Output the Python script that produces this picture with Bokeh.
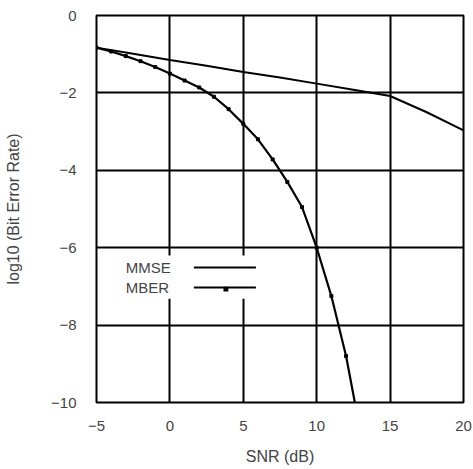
from bokeh.plotting import figure
from bokeh.models import FixedTicker, Range1d, Label, BoxAnnotation
from bokeh.embed import file_html
from bokeh.resources import INLINE

# data
snr_mmse = [-5, -2.5, 0, 2.5, 5, 7.5, 10, 12.5, 15, 17.5, 20]
ber_mmse = [-0.83, -0.99, -1.15, -1.3, -1.46, -1.6, -1.76, -1.92, -2.08, -2.5, -2.97]
snr_mber = [-5, -4, -3, -2, -1, 0, 1, 2, 3, 4, 5, 6, 7, 8, 9, 10, 11, 12, 12.6]
ber_mber = [-0.83, -0.93, -1.05, -1.18, -1.33, -1.5, -1.68, -1.86, -2.1, -2.42,
            -2.8, -3.2, -3.72, -4.3, -4.95, -6.0, -7.25, -8.8, -10.0]
x_ticks = [-5, 0, 5, 10, 15, 20]
y_ticks = [0, -2, -4, -6, -8, -10]
series_names = ["MMSE", "MBER"]

FONT = "Liberation Sans"
TXT = "#444444"

p = figure(width=473, height=469, output_backend="svg", toolbar_location=None,
           x_range=Range1d(-5, 20), y_range=Range1d(-10, 0),
           min_border_left=96, min_border_right=10, min_border_top=15, min_border_bottom=67)
p.outline_line_color = "black"
p.outline_line_width = 2
p.background_fill_color = "white"
p.border_fill_color = "white"

for ax, ticks in ((p.xaxis, x_ticks), (p.yaxis, y_ticks)):
    ax.ticker = FixedTicker(ticks=ticks)
    ax.axis_line_color = None
    ax.major_tick_line_color = None
    ax.minor_tick_line_color = None
    ax.major_label_text_font = FONT
    ax.major_label_text_font_size = "15px"
    ax.major_label_text_color = TXT
    ax.axis_label_text_font = FONT
    ax.axis_label_text_font_size = "16px"
    ax.axis_label_text_font_style = "normal"
    ax.axis_label_text_color = TXT

p.xaxis.axis_label = "SNR (dB)"
p.yaxis.axis_label = "log10 (Bit Error Rate)"
p.xaxis.major_label_standoff = 12
p.yaxis.major_label_standoff = 14
p.xaxis.axis_label_standoff = 14
p.yaxis.axis_label_standoff = 26

p.xgrid.ticker = FixedTicker(ticks=x_ticks)
p.ygrid.ticker = FixedTicker(ticks=y_ticks)
for g in (p.xgrid, p.ygrid):
    g.grid_line_color = "black"
    g.grid_line_width = 2
    g.grid_line_alpha = 1.0

p.line(snr_mmse, ber_mmse, line_color="black", line_width=2)
p.line(snr_mber, ber_mber, line_color="black", line_width=2.2)
p.scatter(snr_mber[:-1], ber_mber[:-1], marker="square", size=3, color="black")

# legend (white box, text then line sample)
p.add_layout(BoxAnnotation(left=-3.6, right=6.1, top=-6.2, bottom=-7.32,
                           fill_color="white", fill_alpha=1, line_color=None))
for i, name in enumerate(series_names):
    yy = -6.51 - 0.52 * i
    p.add_layout(Label(x=-3.0, y=yy, text=name, text_font=FONT, text_font_size="15px",
                       text_color=TXT, text_baseline="middle", text_align="left"))
    p.add_layout(BoxAnnotation(left=1.63, right=5.86, top=yy + 0.025, bottom=yy - 0.025,
                               fill_color="black", fill_alpha=1, line_color=None))
    if i == 1:
        p.add_layout(BoxAnnotation(left=3.65, right=3.98, top=yy + 0.02, bottom=yy - 0.1,
                                   fill_color="black", fill_alpha=1, line_color=None))

open("out.html", "w").write(file_html(p, INLINE))
